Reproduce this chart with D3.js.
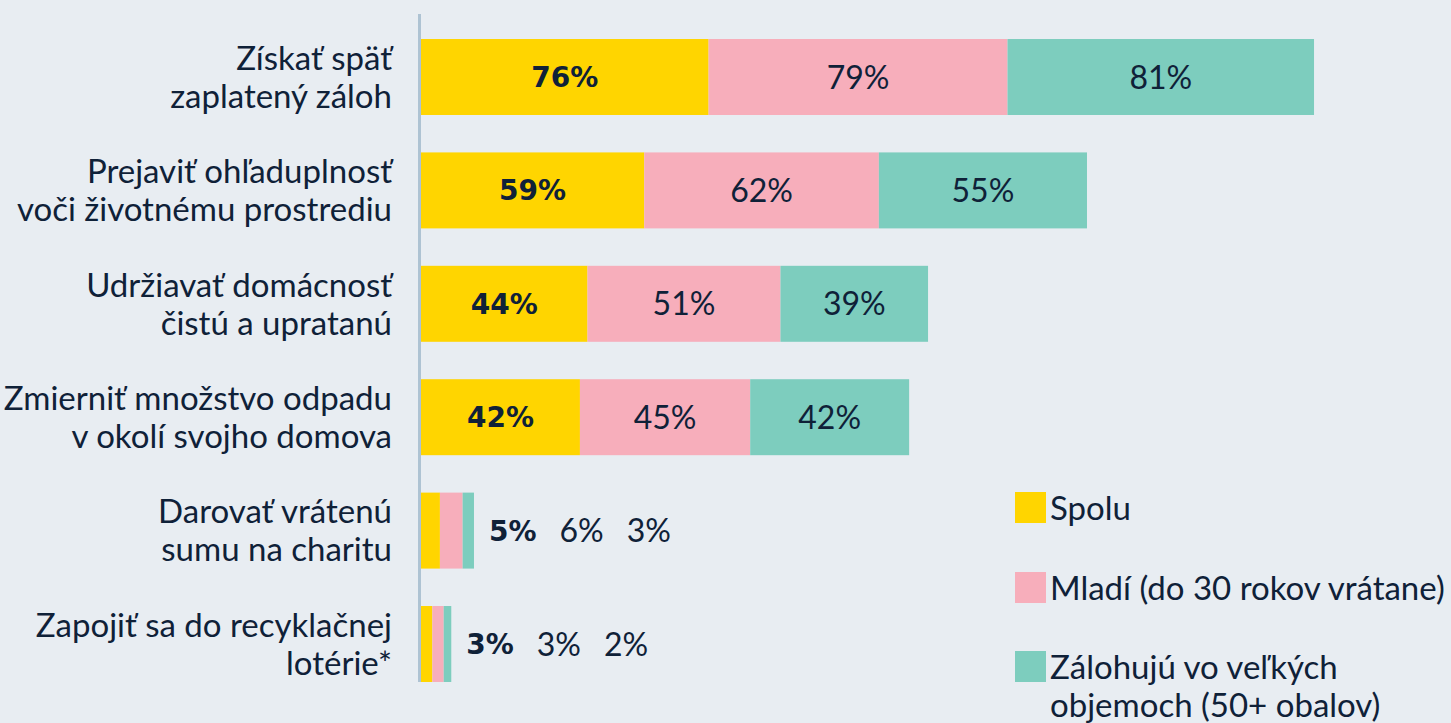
<!DOCTYPE html>
<html><head><meta charset="utf-8">
<script src="https://cdn.jsdelivr.net/npm/d3@7"></script>
<style>
html,body{margin:0;padding:0;background:#e8edf2;}
svg{display:block;}
text{font-family:Lato,"Open Sans",sans-serif;fill:#0f2138;}
text.bold{font-family:"DejaVu Sans",sans-serif;font-weight:bold;}
</style></head><body>
<svg id="chart" width="1451" height="723"></svg>
<script>
const categories = [
  ["Získať späť","zaplatený záloh"],
  ["Prejaviť ohľaduplnosť","voči životnému prostrediu"],
  ["Udržiavať domácnosť","čistú a upratanú"],
  ["Zmierniť množstvo odpadu","v okolí svojho domova"],
  ["Darovať vrátenú","sumu na charitu"],
  ["Zapojiť sa do recyklačnej","lotérie*"]
];
const seriesNames = ["Spolu","Mladí (do 30 rokov vrátane)","Zálohujú vo veľkých objemoch (50+ obalov)"];
const legendLines = [["Spolu"],["Mladí (do 30 rokov vrátane)"],["Zálohujú vo veľkých","objemoch (50+ obalov)"]];
const spolu = [76,59,44,42,5,3];
const mladi = [79,62,51,45,6,3];
const velke = [81,55,39,42,3,2];
const colors = ["#ffd500","#f7aebb","#7dcdbe"];

const svg = d3.select("#chart");
const x0 = 421;
const x = d3.scaleLinear().domain([0,100]).range([x0, x0+378.4]);
const y = d3.scaleBand().domain(d3.range(categories.length)).range([20.3,700.7]).paddingInner(0.33).paddingOuter(0.165);

const series = [spolu,mladi,velke];
const rows = categories.map((c,i)=>{
  let acc=0;
  return series.map((s,k)=>{const seg={row:i,k,v:s[i],a:acc,b:acc+s[i]};acc+=s[i];return seg;});
});

// axis line
svg.append("line").attr("x1",x0-1.5).attr("x2",x0-1.5).attr("y1",14).attr("y2",y(5)+y.bandwidth())
  .attr("stroke","#aec3d3").attr("stroke-width",3);

const g = svg.append("g");
rows.forEach((segs,i)=>{
  segs.forEach(s=>{
    g.append("rect").attr("x",x(s.a)).attr("y",y(i)).attr("width",x(s.b)-x(s.a)).attr("height",y.bandwidth())
      .attr("fill",colors[s.k]);
  });
  const cy = y(i)+y.bandwidth()/2;
  const inside = (x(segs[2].b)-x0) > 200;
  const mk = (s,xx,anchor)=>{
    const t = g.append("text").attr("x",xx).attr("y",cy).attr("dy","0.36em")
      .attr("text-anchor",anchor).text(s.v+"%");
    if(s.k===0) t.attr("class","bold").style("font-size","28px");
    else t.style("font-size","32px");
    return t;
  };
  if(inside){
    segs.forEach(s=>mk(s,(x(s.a)+x(s.b))/2,"middle"));
  } else {
    let cx = x(segs[2].b)+15;
    segs.forEach(s=>{
      const t = mk(s,cx,"start");
      cx += t.node().getComputedTextLength()+23;
    });
  }
  // category label
  const lt = g.append("text").attr("text-anchor","end").style("font-size","33px");
  categories[i].forEach((line,j)=>{
    lt.append("tspan").attr("x",392).attr("y",cy + (j-0.5)*38).attr("dy","0.36em").text(line);
  });
});

// legend
const ly = [492,572,651];
legendLines.forEach((lines,k)=>{
  svg.append("rect").attr("x",1015).attr("y",ly[k]).attr("width",31).attr("height",31).attr("fill",colors[k]);
  const t = svg.append("text").style("font-size","33px");
  lines.forEach((l,j)=>{
    t.append("tspan").attr("x",1050).attr("y",ly[k]+16+j*38).attr("dy","0.36em").text(l);
  });
});
</script>
</body></html>
